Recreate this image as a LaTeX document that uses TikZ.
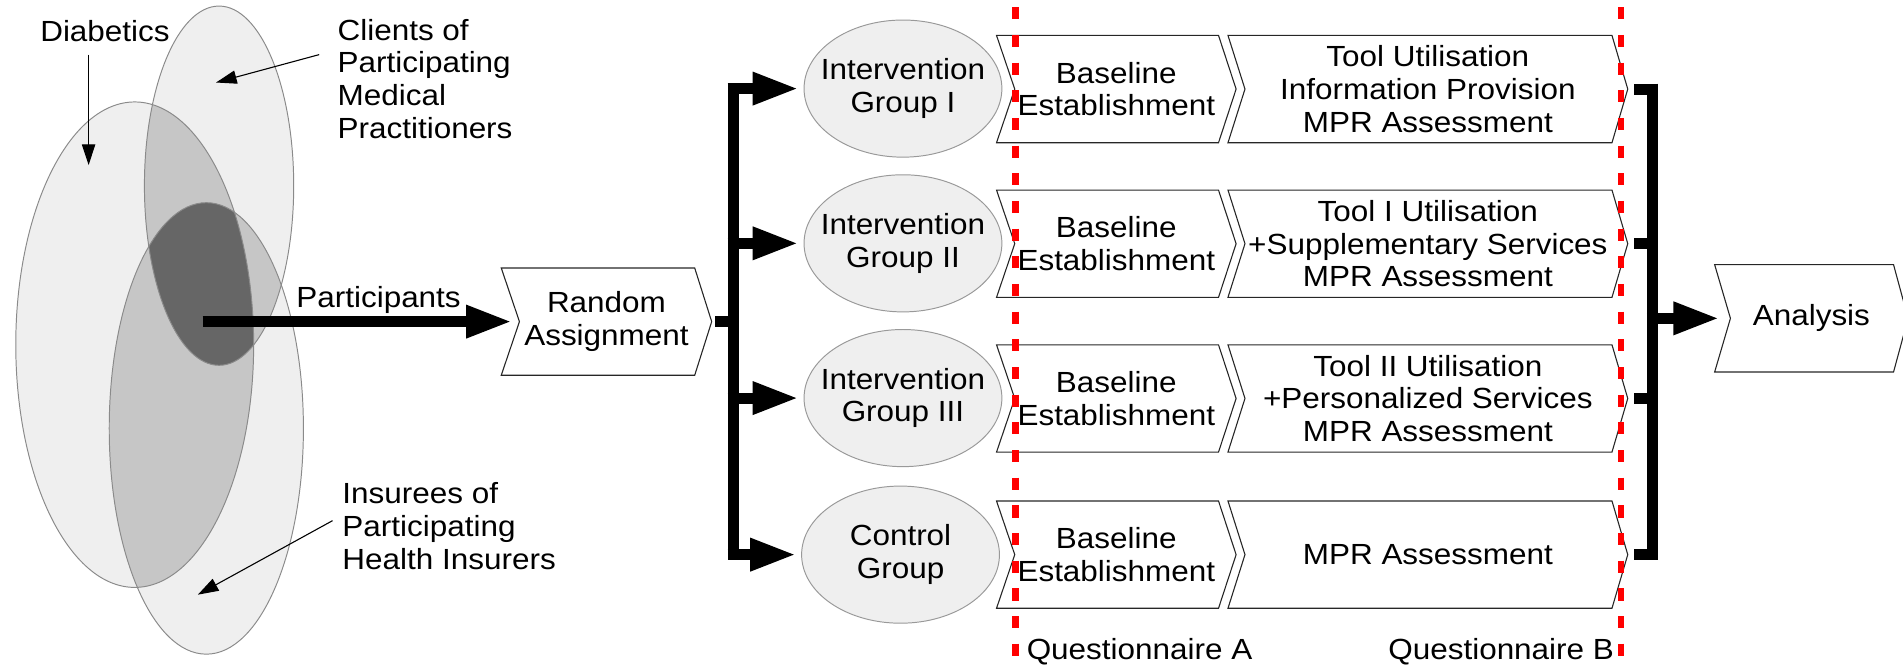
\documentclass[tikz,border=0pt]{standalone}
\usepackage{fontspec}
\setmainfont{Liberation Sans}[FakeStretch=1.08]
\usetikzlibrary{arrows.meta,shapes.geometric}
\definecolor{vlight}{HTML}{EFEFEF}
\definecolor{vmid}{HTML}{C6C6C6}
\definecolor{vdark}{HTML}{666666}
\definecolor{vedge}{HTML}{8A8A8A}
\definecolor{qred}{HTML}{FF0000}
\newcommand{\chevpath}[3]{\draw[boxline] (#1.north west) -- ([xshift=-#3]#1.north east) -- (#1.east) -- ([xshift=-#3]#1.south east) -- (#1.south west) -- ([xshift=#2]#1.west) -- cycle;}
\def\vennD{(111,284) ellipse [x radius=98, y radius=200]}
\def\vennC{(180.5,153) ellipse [x radius=61.5, y radius=148]}
\def\vennI{(170,353) ellipse [x radius=80, y radius=186]}
\begin{document}
\begin{tikzpicture}[x=1pt,y=-1pt,
  every node/.style={font=\fontsize{24}{27}\selectfont, inner sep=0pt},
  lbl/.style={align=left},
  thinarrow/.style={line width=0.9pt, -{Triangle[length=17pt,width=11pt]}},
  fat/.style={line width=9pt},
  fatarrow/.style={line width=9pt, -{Triangle[length=38pt,width=25pt]}},
  grp/.style={ellipse, draw=black!40, line width=0.8pt, fill=vlight, minimum width=163pt, minimum height=113pt},
  grptext/.style={align=center},
  chevbox/.style={align=center, minimum height=88pt},
  boxline/.style={draw=black!85, line width=0.9pt, line join=miter},
  qline/.style={draw=qred, line width=5.4pt, dash pattern=on 10pt off 12.8pt},
]
\useasboundingbox (0,0) rectangle (1568,548);

% ---- Venn diagram ----
\fill[vlight] \vennD;
\fill[vlight] \vennC;
\fill[vlight] \vennI;
\begin{scope}\clip \vennD; \fill[vmid] \vennC; \fill[vmid] \vennI; \end{scope}
\begin{scope}\clip \vennC; \fill[vmid] \vennI; \end{scope}
\begin{scope}\clip \vennD; \clip \vennC; \fill[vdark] \vennI; \end{scope}
\draw[vedge, line width=0.8pt] \vennD;
\draw[vedge, line width=0.8pt] \vennC;
\draw[vedge, line width=0.8pt] \vennI;

\node[anchor=base west] (diab) at (33,34) {Diabetics};
\node[anchor=north west, lbl] (clients) at (278,15.5) {Clients of\\Participating\\Medical\\Practitioners};
\node[anchor=north west, lbl] (insurees) at (282,397.5) {Insurees of\\Participating\\Health Insurers};
\node[anchor=base west] (partlbl) at (244,253.6) {Participants};

\coordinate (dtail) at (73,45);   \coordinate (dhead) at (73,136);
\coordinate (ctail) at (263,45);  \coordinate (chead) at (178,68);
\coordinate (itail) at (274,429); \coordinate (ihead) at (163,490);
\draw[thinarrow] (dtail) -- (dhead);
\draw[thinarrow] (ctail) -- (chead);
\draw[thinarrow] (itail) -- (ihead);

% ---- Random assignment ----
\node[chevbox, minimum width=173pt] (ra) at (499.7,265) {Random\\Assignment};
\chevpath{ra}{15pt}{14pt}
\coordinate (pstart) at (167,265);
\draw[fatarrow] (pstart) -- ([xshift=9pt]ra.west);

% ---- groups ----
\node[grp] (g1) at (744,73) {};
\node[grp] (g2) at (744,200.5) {};
\node[grp] (g3) at (744,328) {};
\node[grp] (g4) at (742,457) {};
\node[grptext] (g1t) at (g1.center) {Intervention\\Group I};
\node[grptext] (g2t) at (g2.center) {Intervention\\Group II};
\node[grptext] (g3t) at (g3.center) {Intervention\\Group III};
\node[grptext] (g4t) at (g4.center) {Control\\Group};

\coordinate (fork) at (604,265);
\coordinate (bartop) at (604,68.5);
\coordinate (barbot) at (604,461.5);
\draw[fat] ([xshift=3pt]ra.east) -- (fork);
\draw[fat] (bartop) -- (barbot);
\coordinate (b1) at (599.5,73);
\coordinate (b2) at (599.5,200.5);
\coordinate (b3) at (599.5,328);
\coordinate (b4) at (599.5,457);
\draw[fatarrow, shorten >=4pt] (b1) -- (g1.west);
\draw[fatarrow, shorten >=4pt] (b2) -- (g2.west);
\draw[fatarrow, shorten >=4pt] (b3) -- (g3.west);
\draw[fatarrow, shorten >=4pt] (b4) -- (g4.west);

% ---- phase boxes ----
\node[chevbox, minimum width=197pt] (s1) at (919.8,73.4) {Baseline\\Establishment};
\node[chevbox, minimum width=197pt] (s2) at (919.8,200.8) {Baseline\\Establishment};
\node[chevbox, minimum width=197pt] (s3) at (919.8,328.3) {Baseline\\Establishment};
\node[chevbox, minimum width=197pt] (s4) at (919.8,457) {Baseline\\Establishment};
\node[chevbox, minimum width=329pt] (t1) at (1176.5,73.4) {Tool Utilisation\\Information Provision\\MPR Assessment};
\node[chevbox, minimum width=329pt] (t2) at (1176.5,200.8) {Tool I Utilisation\\+Supplementary Services\\MPR Assessment};
\node[chevbox, minimum width=329pt] (t3) at (1176.5,328.3) {Tool II Utilisation\\+Personalized Services\\MPR Assessment};
\node[chevbox, minimum width=329pt] (t4) at (1176.5,457) {MPR Assessment};
\chevpath{s1}{15pt}{14.5pt}
\chevpath{s2}{15pt}{14.5pt}
\chevpath{s3}{15pt}{14.5pt}
\chevpath{s4}{15pt}{14.5pt}
\chevpath{t1}{14pt}{13pt}
\chevpath{t2}{14pt}{13pt}
\chevpath{t3}{14pt}{13pt}
\chevpath{t4}{14pt}{13pt}

% ---- merge to analysis ----
\node[chevbox, minimum width=159pt] (an) at (1492.5,262.3) {Analysis};
\chevpath{an}{13pt}{12pt}
\coordinate (r1) at (1361.7,73.4);
\coordinate (r2) at (1361.7,200.8);
\coordinate (r3) at (1361.7,328.3);
\coordinate (r4) at (1361.7,457);
\draw[fat] ([xshift=5.5pt]t1.east) -- (r1);
\draw[fat] ([xshift=5.5pt]t2.east) -- (r2);
\draw[fat] ([xshift=5.5pt]t3.east) -- (r3);
\draw[fat] ([xshift=5.5pt]t4.east) -- (r4);
\draw[fat] (1361.7,68.9) -- (1361.7,461.5);
\coordinate (afork) at (1357,262.3);
\draw[fatarrow] (afork) -- ([xshift=4pt]an.west);

% ---- questionnaires ----
\draw[qline] (836.5,6) -- (836.5,548);
\draw[qline] (1335.7,6) -- (1335.7,548);
\node[anchor=base west] (qa) at (845.8,543.8) {Questionnaire A};
\node[anchor=base east] (qb) at (1330,543.8) {Questionnaire B};
\end{tikzpicture}
\end{document}
